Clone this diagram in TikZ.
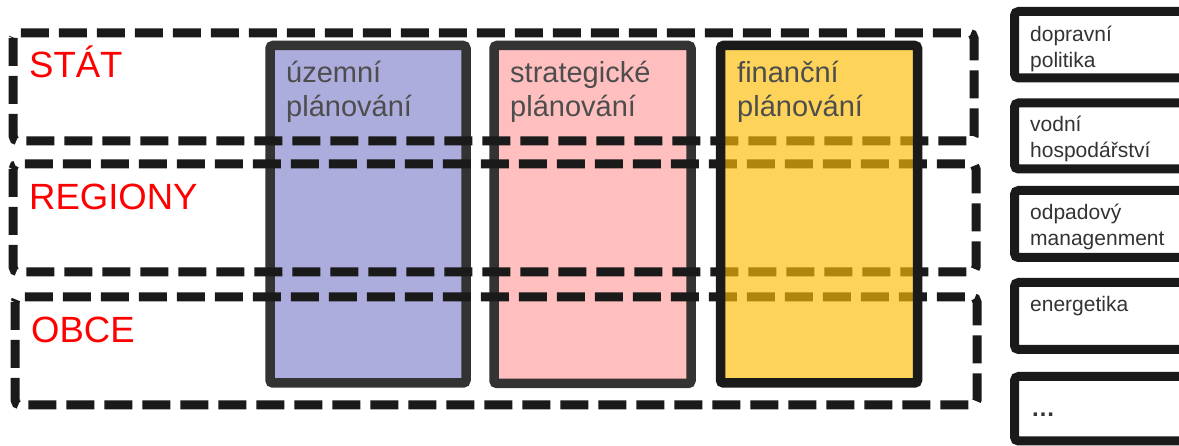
\documentclass[tikz,border=0pt]{standalone}
\usepackage{fontspec}
\setmainfont{Liberation Sans}
\definecolor{blueF}{HTML}{ACACDD}
\definecolor{pinkF}{HTML}{FFBFBF}
\definecolor{yelF}{RGB}{253,189,6}
\definecolor{colB}{HTML}{333333}
\definecolor{blk}{HTML}{1A1A1A}
\definecolor{lvl}{HTML}{FF0000}
\definecolor{coltxt}{HTML}{4D4D4D}
\definecolor{boxtxt}{HTML}{333333}
\tikzset{
  layerbox/.style={draw=blk, line width=9pt, dash pattern=on 28pt off 10pt, rounded corners=5pt},
  colbox/.style={line width=9.5pt, rounded corners=3pt},
  sidebox/.style={draw=blk, line width=9pt, rounded corners=4pt, fill=white},
  lvltext/.style={anchor=base west, inner sep=0pt, text=lvl, font=\fontsize{36.5}{40}\selectfont},
  coltext/.style={anchor=base west, inner sep=0pt, text=coltxt, align=left, font=\fontsize{29}{34}\selectfont},
  sidetext/.style={anchor=base west, inner sep=0pt, text=boxtxt, align=left, font=\fontsize{21}{26}\selectfont}
}
\begin{document}
\begin{tikzpicture}[x=1pt,y=-1pt]
\useasboundingbox (0,0) rectangle (1179,446);
\clip (0,0) rectangle (1179,446);
\fill[white] (0,0) rectangle (1179,446);
% columns (behind the layers)
\draw[colbox, draw=colB, fill=blueF] (270,45.5) rectangle (466,383);
\draw[colbox, draw=colB, fill=pinkF] (494,45.5) rectangle (691,383.5);
% layers
\draw[layerbox] (13,33) rectangle (974,141);
\draw[layerbox] (13,164) rectangle (976,272);
\draw[layerbox] (15,297) rectangle (977,405);
% financial column on top, translucent fill
\draw[colbox, draw=blk, fill=yelF, fill opacity=0.66, draw opacity=1] (720.5,45.5) rectangle (917.5,383);
% labels (base = baseline of the last line)
\node[lvltext] (stat) at (29,78) {STÁT};
\node[lvltext] (reg) at (29,210) {REGIONY};
\node[lvltext] (obce) at (31,343) {OBCE};
\node[coltext] (uzt) at (286,117) {územní\\plánování};
\node[coltext] (stt) at (510,117) {strategické\\plánování};
\node[coltext] (fit) at (737,117) {finanční\\plánování};
% side boxes
\draw[sidebox] (1014.5,11.5) rectangle (1200,78);
\draw[sidebox] (1014.5,103) rectangle (1200,169);
\draw[sidebox] (1014.5,190.5) rectangle (1200,257.5);
\draw[sidebox] (1014.5,282.5) rectangle (1200,349.5);
\draw[sidebox] (1014.5,376.5) rectangle (1200,441);
\node[sidetext] (s1) at (1030,68) {dopravní\\politika};
\node[sidetext] (s2) at (1030,158) {vodní\\hospodářství};
\node[sidetext] (s3) at (1030,246) {odpadový\\managenment};
\node[sidetext] (s4) at (1030,312) {energetika};
\node[sidetext, font=\bfseries\fontsize{24}{28}\selectfont] (s5) at (1031,417) {…};
\end{tikzpicture}
\end{document}
